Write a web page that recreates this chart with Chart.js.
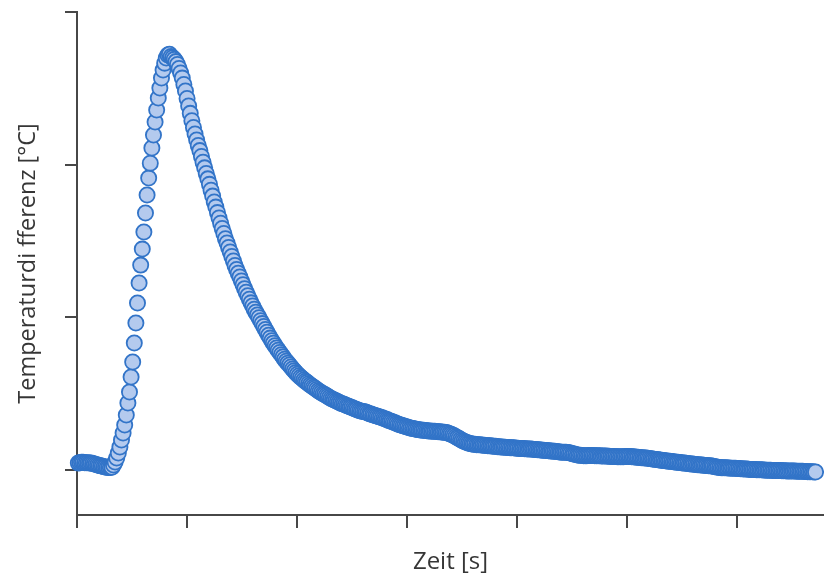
<!DOCTYPE html>
<html>
<head>
<meta charset="utf-8">
<script src="https://cdn.jsdelivr.net/npm/chart.js@4.4.1/dist/chart.umd.min.js"></script>
<style>
  html, body { margin: 0; padding: 0; background: #ffffff; }
  #wrap { width: 824px; height: 577px; }
</style>
</head>
<body>
<div id="wrap"><canvas id="c" width="824" height="577"></canvas></div>
<script>
// ---- data ----
const xTitle = 'Zeit [s]';
const yTitle = 'Temperaturdi fferenz [°C]';
const xTicks = [0, 1, 2, 3, 4, 5, 6];
const yTicks = [0, 1, 2, 3];
const timeStart = 0.012;
const timeEnd = 6.717;
const tempDiff = [
  // baseline
  0.045,0.047,0.050,0.050,0.048,0.047,0.048,0.046,0.045,0.043,0.040,0.036,0.033,0.030,0.027,0.024,0.021,0.019,0.017,0.016,0.016,0.018,
  // rise
  0.033,0.052,0.079,0.111,0.151,0.196,0.242,0.295,0.360,0.439,0.511,0.609,0.707,0.832,0.963,1.094,1.225,1.342,1.447,1.559,1.683,1.801,1.912,2.010,2.109,2.194,2.279,2.358,2.436,2.502,2.567,2.620,2.665,2.698,2.718,2.724,
  // decay
  2.708,2.701,2.690,2.675,2.656,2.630,2.600,2.567,2.525,2.483,2.434,2.384,2.336,2.288,2.243,2.201,2.162,2.126,2.092,2.054,
  2.016,1.979,1.942,1.907,1.871,1.832,1.794,1.756,1.722,1.686,1.651,1.616,1.582,1.549,1.515,1.487,1.457,1.428,1.398,1.369,
  1.340,1.314,1.289,1.264,1.238,1.214,1.188,1.164,1.141,1.119,1.095,1.074,1.053,1.034,1.015,0.997,0.978,0.959,0.940,0.921,
  0.902,0.883,0.864,0.847,0.831,0.814,0.799,0.785,0.770,0.755,0.741,0.726,0.712,0.700,0.688,0.675,0.662,0.650,0.638,0.627,
  0.617,0.607,
  // tail
  0.599,0.590,0.582,0.574,0.565,0.557,0.550,0.542,0.535,0.528,0.519,0.513,0.506,0.500,0.494,0.488,0.481,0.475,
  0.469,0.464,0.459,0.453,0.448,0.443,0.438,0.434,0.430,0.425,0.421,0.417,0.413,0.409,0.405,0.400,0.396,0.392,0.388,
  0.385,0.383,0.381,0.378,0.373,0.369,0.366,0.362,0.359,0.356,0.352,0.349,0.346,0.342,0.338,0.334,0.330,0.325,0.321,
  0.317,0.313,0.309,0.304,0.300,0.296,0.293,0.290,0.286,0.283,0.280,0.277,0.274,0.272,0.270,0.267,0.265,0.263,
  0.262,0.261,0.260,0.259,0.257,0.256,0.255,0.254,0.254,0.253,0.252,0.251,0.250,0.249,0.248,0.247,0.245,0.242,0.238,
  0.234,0.229,0.224,0.218,0.212,0.206,0.200,0.194,0.189,0.184,0.180,0.176,0.173,
  0.171,0.169,0.168,0.166,0.165,0.165,0.163,0.162,0.162,0.160,0.159,0.158,0.158,0.156,0.155,0.155,0.153,0.152,0.151,
  0.150,0.149,0.149,0.148,0.147,0.146,0.146,0.145,0.144,0.143,0.142,0.141,0.140,0.140,0.139,0.139,0.138,0.137,0.137,0.136,0.135,0.134,0.133,0.132,0.131,
  0.130,0.129,0.128,0.127,0.126,0.125,0.124,0.123,0.122,0.121,0.119,0.118,
  0.117,0.117,0.117,0.116,0.115,0.113,0.110,0.107,0.104,0.101,0.099,0.097,0.096,
  0.095,0.094,0.094,0.094,0.095,0.095,0.095,0.095,0.094,0.094,0.093,0.093,
  0.092,0.092,0.091,0.091,0.090,0.090,0.089,0.089,0.088,0.088,0.087,0.087,0.087,0.087,0.087,0.088,0.088,0.088,0.088,0.087,0.086,0.085,0.084,0.083,0.082,
  0.081,0.080,0.079,0.078,0.077,0.075,0.074,0.072,0.071,0.069,0.068,0.066,
  0.065,0.063,0.062,0.061,0.059,0.058,0.057,0.055,0.054,0.053,0.051,0.050,0.049,0.047,0.046,0.045,0.044,0.043,0.041,0.040,0.039,0.038,0.036,0.035,0.034,
  0.033,0.032,0.031,0.030,0.029,0.028,0.027,0.026,0.024,0.022,0.020,0.018,0.016,
  0.015,0.015,0.014,0.014,0.013,0.013,0.012,0.012,0.011,0.011,0.010,0.009,0.008,0.008,0.007,0.006,0.006,0.005,0.004,0.004,0.003,0.003,0.002,0.002,0.001,
  0.001,0.000,0.000,-0.001,-0.001,-0.002,-0.002,-0.003,-0.003,-0.003,-0.004,-0.004,-0.004,-0.005,-0.005,-0.005,-0.006,-0.006,-0.006,-0.007,-0.007,-0.007,
  -0.008,-0.008,-0.008,-0.009,-0.009,-0.010,-0.010,-0.011,-0.011,-0.012,-0.012,-0.013,-0.013
];

// ---- build dataset: uniform sampling grid between first and last sample ----
const n = tempDiff.length;
const points = tempDiff.map((v, i) => ({
  x: timeStart + (timeEnd - timeStart) * i / (n - 1),
  y: v
}));

const axisColor = '#474747';
const textColor = '#363636';
const fontFamily = '"Open Sans", "Noto Sans", sans-serif';

new Chart(document.getElementById('c'), {
  type: 'scatter',
  data: {
    datasets: [{
      data: points,
      pointRadius: 7.6,
      pointHoverRadius: 7.6,
      pointBorderWidth: 1.8,
      pointBackgroundColor: 'rgb(180, 202, 238)',
      pointBorderColor: 'rgb(50, 116, 200)',
      showLine: false,
      clip: false
    }]
  },
  options: {
    responsive: false,
    animation: false,
    devicePixelRatio: 1,
    events: [],
    layout: { autoPadding: false, padding: { top: 12, right: 0, bottom: 0, left: 0 } },
    plugins: { legend: { display: false }, tooltip: { enabled: false }, title: { display: false } },
    scales: {
      x: {
        type: 'linear',
        position: 'bottom',
        min: 0,
        max: 6.794,
        afterBuildTicks: s => { s.ticks = xTicks.map(v => ({ value: v })); },
        afterFit: s => { s.height = 62; },
        ticks: { display: false },
        grid: { display: true, drawOnChartArea: false, drawTicks: true, tickLength: 13, color: axisColor, lineWidth: 2 },
        border: { display: true, color: axisColor, width: 2 },
        title: {
          display: true, text: xTitle, color: textColor,
          font: { family: fontFamily, size: 24 },
          padding: { top: 0, bottom: 0 }
        }
      },
      y: {
        type: 'linear',
        position: 'left',
        min: -0.2948,
        max: 3,
        afterBuildTicks: s => { s.ticks = yTicks.map(v => ({ value: v })); },
        afterFit: s => { s.width = 77; },
        ticks: { display: false },
        grid: { display: true, drawOnChartArea: false, drawTicks: true, tickLength: 12, color: axisColor, lineWidth: 2 },
        border: { display: true, color: axisColor, width: 2 },
        title: {
          display: true, text: yTitle, color: textColor,
          font: { family: fontFamily, size: 23.5 },
          padding: { top: 14, bottom: 0 }
        }
      }
    }
  }
});
</script>
</body>
</html>
